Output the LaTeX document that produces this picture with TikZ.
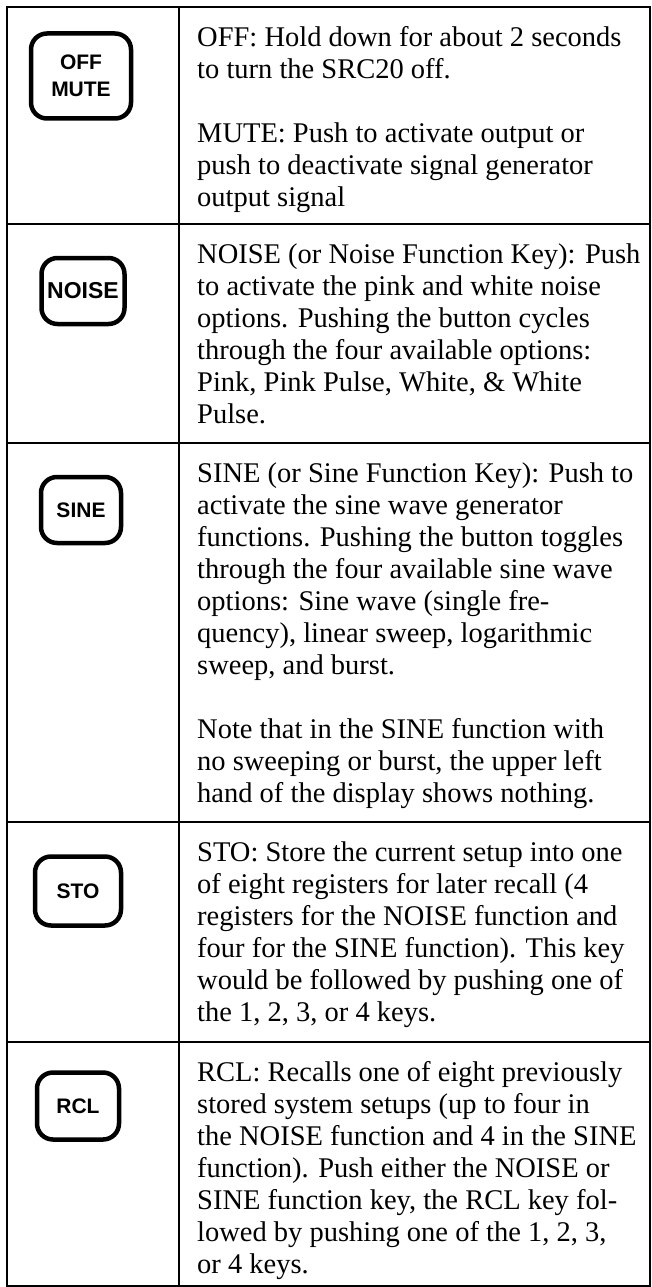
\documentclass[tikz,border=0pt]{standalone}
\usepackage{fontspec}
\setmainfont{Liberation Serif}
\newfontfamily\keyfont{Liberation Sans}
\begin{document}
\begin{tikzpicture}[x=1pt,y=-1pt,
	tabline/.style={line width=1.2pt},
	keybox/.style={draw, line width=4.5pt, rounded corners=16pt, align=center, inner sep=0pt,
		font=\keyfont\bfseries\fontsize{21}{25}\selectfont},
	desc/.style={anchor=north west, inner sep=0pt, align=left, font=\fontsize{28.5}{32}\selectfont}]
	\useasboundingbox (0,0) rectangle (651,1287);
	
	\draw[tabline] (7,7) rectangle (650,1286);%Rahmen
	\draw[tabline] (179,7) -- (179,1286);%Spalte
	\foreach \y in {224,443,822,1042}
		\draw[tabline] (7,\y) -- (650,\y);%Zeilen
	
	%Tasten
	\node[keybox, minimum width=100pt, minimum height=85pt] (off) at (81,76) {OFF\\[2pt]MUTE};
	\node[keybox, minimum width=83pt, minimum height=66pt, font=\keyfont\bfseries\fontsize{23}{25}\selectfont] (noise) at (83,291) {NOISE};
	\node[keybox, minimum width=80pt, minimum height=66pt] (sine) at (81,510) {SINE};
	\node[keybox, minimum width=86pt, minimum height=69pt] (sto) at (78,891) {STO};
	\node[keybox, minimum width=82pt, minimum height=67pt] (rcl) at (78,1106) {RCL};
	
	%Beschreibungen
	\node[desc] (offtxt) at (197,23.6) {\strut OFF: Hold down for about 2 seconds\\
		to turn the SRC20 off.\\[32pt]
		MUTE: Push to activate output or\\
		push to deactivate signal generator\\
		output signal};
	\node[desc] (noisetxt) at (197,240.6) {\strut NOISE (or Noise Function Key): Push\\
		to activate the pink and white noise\\
		options. Pushing the button cycles\\
		through the four available options:\\
		Pink, Pink Pulse, White, \& White\\
		Pulse.};
	\node[desc] (sinetxt) at (197,459.6) {\strut SINE (or Sine Function Key): Push to\\
		activate the sine wave generator\\
		functions. Pushing the button toggles\\
		through the four available sine wave\\
		options: Sine wave (single fre-\\
		quency), linear sweep, logarithmic\\
		sweep, and burst.\\[32pt]
		Note that in the SINE function with\\
		no sweeping or burst, the upper left\\
		hand of the display shows nothing.};
	\node[desc] (stotxt) at (197,838.6) {\strut STO: Store the current setup into one\\
		of eight registers for later recall (4\\
		registers for the NOISE function and\\
		four for the SINE function). This key\\
		would be followed by pushing one of\\
		the 1, 2, 3, or 4 keys.};
	\node[desc] (rcltxt) at (197,1058.6) {\strut RCL: Recalls one of eight previously\\
		stored system setups (up to four in\\
		the NOISE function and 4 in the SINE\\
		function). Push either the NOISE or\\
		SINE function key, the RCL key fol-\\
		lowed by pushing one of the 1, 2, 3,\\
		or 4 keys.};
\end{tikzpicture}
\end{document}
